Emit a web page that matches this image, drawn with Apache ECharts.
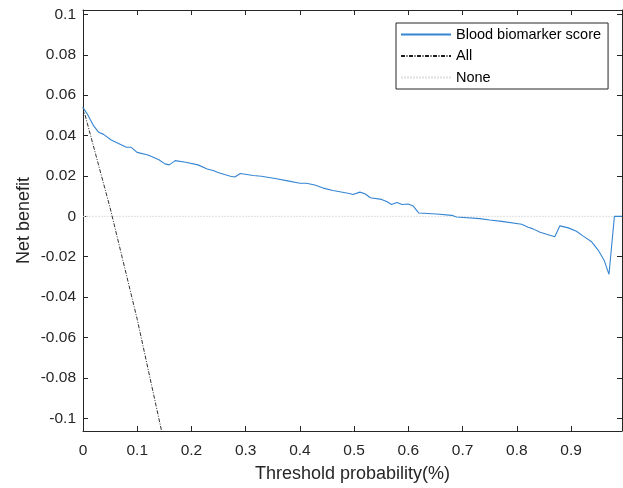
<!DOCTYPE html>
<html>
<head>
<meta charset="utf-8">
<script src="https://cdn.jsdelivr.net/npm/echarts@6/dist/echarts.min.js"></script>
<style>
  html, body { margin: 0; padding: 0; background: #fff; }
  #dca { width: 623px; height: 488px; }
</style>
</head>
<body>
<div id="dca"></div>
<script>
// decision curve data
var modelX = [0, 0.0074, 0.0197, 0.029, 0.038, 0.052, 0.08, 0.089, 0.0997, 0.12, 0.14, 0.151, 0.159, 0.17, 0.1895,
  0.212, 0.229, 0.24, 0.249, 0.261, 0.272, 0.28, 0.29, 0.314, 0.329, 0.357, 0.375, 0.4, 0.412, 0.4275, 0.443, 0.461,
  0.491, 0.498, 0.5105, 0.52, 0.53, 0.5505, 0.56, 0.569, 0.579, 0.5886, 0.5996, 0.609, 0.619, 0.652, 0.68, 0.689,
  0.732, 0.75, 0.772, 0.809, 0.821, 0.83, 0.843, 0.87, 0.8795, 0.895, 0.91, 0.9225, 0.938, 0.95, 0.961, 0.97, 0.98, 0.994];
var modelY = [0.0539, 0.0509, 0.0448, 0.0416, 0.0406, 0.0378, 0.0342, 0.0342, 0.0317, 0.0304, 0.028, 0.026, 0.0255, 0.0276, 0.0268,
  0.0255, 0.0235, 0.0227, 0.0217, 0.0207, 0.0199, 0.0195, 0.0212, 0.0202, 0.0199, 0.0186, 0.0177, 0.0164, 0.0164, 0.0155, 0.014, 0.0128,
  0.0113, 0.0108, 0.012, 0.0112, 0.0092, 0.0084, 0.0074, 0.0059, 0.0069, 0.0059, 0.0061, 0.0051, 0.0017, 0.0012, 0.0005, -0.0003,
  -0.0011, -0.0018, -0.0025, -0.0039, -0.0054, -0.0062, -0.0079, -0.0101, -0.0047, -0.0057, -0.0074, -0.0098, -0.0126, -0.0167, -0.0217, -0.0287, 0, 0];

var allX = [0, 0.05, 0.1, 0.145];
var allY = [0.054, 0.0042, -0.051, -0.1064];

var noneX = [0, 0.994];
var noneY = [0, 0];

var xTicks = [0, 0.1, 0.2, 0.3, 0.4, 0.5, 0.6, 0.7, 0.8, 0.9];
var yTicks = [-0.1, -0.08, -0.06, -0.04, -0.02, 0, 0.02, 0.04, 0.06, 0.08, 0.1];

function pairs(xs, ys) {
  return xs.map(function (x, i) { return [x, ys[i]]; });
}

var axisColor = '#262626';
var font = 'Liberation Sans, Arial, Helvetica, sans-serif';

var chart = echarts.init(document.getElementById('dca'));

var xBase = {
  type: 'value', min: 0, max: 0.994,
  axisLine: { onZero: false, lineStyle: { color: axisColor, width: 1 } },
  axisTick: { inside: true, length: 5, customValues: xTicks, lineStyle: { color: axisColor } },
  splitLine: { show: false }
};
var yBase = {
  type: 'value', min: -0.1063, max: 0.1022,
  axisLine: { onZero: false, lineStyle: { color: axisColor, width: 1 } },
  axisTick: { inside: true, length: 5, customValues: yTicks, lineStyle: { color: axisColor } },
  splitLine: { show: false }
};

chart.setOption({
  animation: false,
  grid: { left: 83, right: 1, top: 10, bottom: 54 },
  legend: {
    orient: 'vertical',
    left: 396, top: 23,
    itemWidth: 50, itemHeight: 14, itemGap: 6.5,
    padding: [4, 7, 4, 4],
    borderColor: axisColor, borderWidth: 1,
    backgroundColor: '#fff',
    itemStyle: { opacity: 0 },
    textStyle: { fontFamily: font, fontSize: 14.5, color: '#000' },
    data: ['Blood biomarker score', 'All', 'None']
  },
  xAxis: [
    Object.assign({}, xBase, {
      position: 'bottom',
      name: 'Threshold probability(%)', nameLocation: 'middle', nameGap: 34, nameMoveOverlap: false,
      nameTextStyle: { fontFamily: font, fontSize: 18, color: axisColor },
      axisLabel: { customValues: xTicks, margin: 12, fontFamily: font, fontSize: 15.5, color: axisColor }
    }),
    Object.assign({}, xBase, { position: 'top', axisLabel: { show: false } })
  ],
  yAxis: [
    Object.assign({}, yBase, {
      position: 'left',
      name: 'Net benefit', nameLocation: 'middle', nameGap: 50, nameMoveOverlap: false,
      nameTextStyle: { fontFamily: font, fontSize: 18, color: axisColor },
      axisLabel: { customValues: yTicks, margin: 7, fontFamily: font, fontSize: 15.5, color: axisColor }
    }),
    Object.assign({}, yBase, { position: 'right', axisLabel: { show: false } })
  ],
  series: [
    {
      name: 'None', type: 'line', symbol: 'none',
      data: pairs(noneX, noneY),
      lineStyle: { color: '#e0e0e0', width: 1, type: [2, 1] },
      itemStyle: { color: '#e0e0e0' }
    },
    {
      name: 'All', type: 'line', symbol: 'none',
      data: pairs(allX, allY),
      lineStyle: { color: '#1a1a1a', width: 0.9, type: [4, 1.5, 1, 1.5] },
      itemStyle: { color: '#1a1a1a' }
    },
    {
      name: 'Blood biomarker score', type: 'line', symbol: 'none',
      data: pairs(modelX, modelY),
      lineStyle: { color: '#3585d3', width: 1.1 },
      itemStyle: { color: '#3585d3' }
    }
  ]
});
</script>
</body>
</html>
